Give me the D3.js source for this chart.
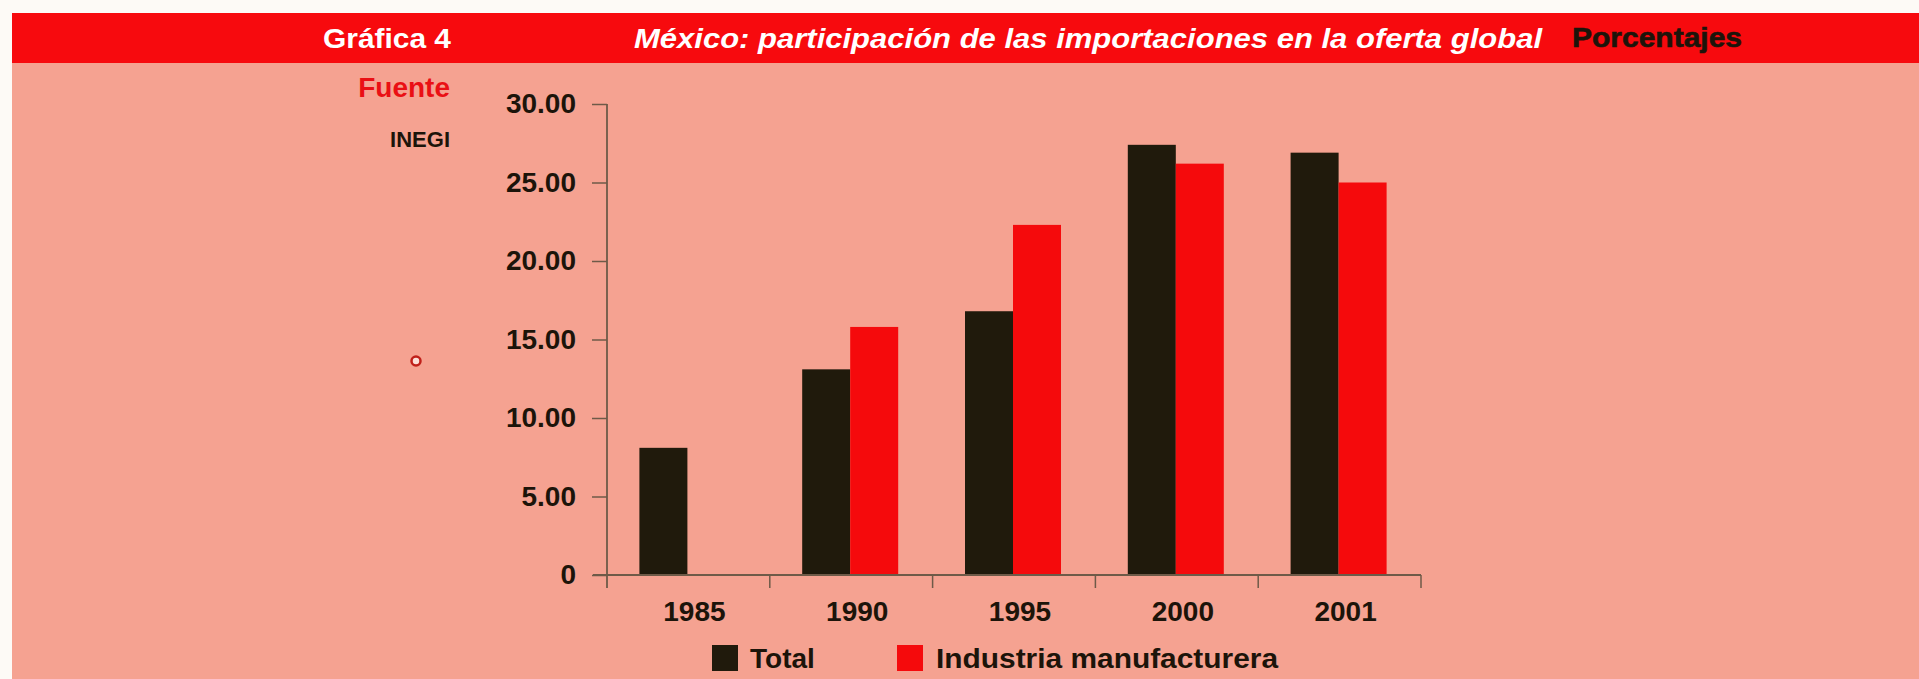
<!DOCTYPE html>
<html>
<head>
<meta charset="utf-8">
<script src="https://cdn.jsdelivr.net/npm/d3@7"></script>
<style>
  html, body { margin: 0; padding: 0; background: #fdfaf6; }
  svg { display: block; }
  text { font-family: "Liberation Sans", Arial, Helvetica, sans-serif; font-weight: bold; }
</style>
</head>
<body>
<svg id="chart" width="1919" height="679"></svg>
<script>
// ---- data ----
const years = ["1985", "1990", "1995", "2000", "2001"];
const seriesNames = ["Total", "Industria manufacturera"];
const totalValues = [8.1, 13.1, 16.8, 27.4, 26.9];
const industriaValues = [null, 15.8, 22.3, 26.2, 25.0];
const yTicks = [0, 5, 10, 15, 20, 25, 30];
const seriesColors = ["#201a0c", "#f50a0c"];

const headerLabel = "Gráfica 4";
const titleText = "México: participación de las importaciones en la oferta global";
const unitText = "Porcentajes";
const sourceLabel = "Fuente";
const sourceText = "INEGI";

// ---- layout ----
const W = 1919, H = 679;
const svg = d3.select("#chart");

// page background (salmon) with white margin top/left
svg.append("rect").attr("x", 12).attr("y", 13).attr("width", W - 12).attr("height", H - 13)
  .attr("fill", "#f5a291");
// header band
svg.append("rect").attr("x", 12).attr("y", 13).attr("width", W - 12).attr("height", 50)
  .attr("fill", "#f70a0e");

svg.append("text").attr("x", 323).attr("y", 48)
  .attr("font-size", 28).attr("fill", "#ffffff")
  .attr("textLength", 128).attr("lengthAdjust", "spacingAndGlyphs").text(headerLabel);
svg.append("text").attr("x", 634).attr("y", 48)
  .attr("font-size", 28).attr("font-style", "italic").attr("fill", "#ffffff")
  .attr("textLength", 908).attr("lengthAdjust", "spacingAndGlyphs").text(titleText);
svg.append("text").attr("x", 1572).attr("y", 47)
  .attr("font-size", 28).attr("font-weight", "normal").attr("fill", "#1c140a")
  .attr("stroke", "#1c140a").attr("stroke-width", 0.6)
  .attr("textLength", 170).attr("lengthAdjust", "spacingAndGlyphs").text(unitText);

svg.append("text").attr("x", 450).attr("y", 97).attr("text-anchor", "end")
  .attr("font-size", 28).attr("fill", "#ea0f14").text(sourceLabel);
svg.append("text").attr("x", 450).attr("y", 147).attr("text-anchor", "end")
  .attr("font-size", 22).attr("fill", "#1c140a").text(sourceText);

// scan artifact dot
svg.append("circle").attr("cx", 416).attr("cy", 361).attr("r", 4.5)
  .attr("fill", "#fbe0d8").attr("stroke", "#c0201a").attr("stroke-width", 2.5);

// ---- scales ----
const x0 = 607, x1 = 1421, yBase = 575, yTop = 104;
const x = d3.scaleBand().domain(years).range([x0, x1]).paddingInner(0).paddingOuter(0);
const y = d3.scaleLinear().domain([0, 30]).range([yBase, yTop]);
const xs = d3.scaleBand().domain(seriesNames).range([-49, 47]);

const axisColor = "#6e5a48";

// y axis
const yAxis = d3.axisLeft(y).tickValues(yTicks).tickSize(15).tickSizeOuter(0).tickPadding(16)
  .tickFormat(d => d === 0 ? "0" : d3.format(".2f")(d));
const gy = svg.append("g").attr("transform", `translate(${x0},0)`).call(yAxis);
gy.select(".domain").remove();
gy.selectAll(".tick line").attr("stroke", axisColor).attr("stroke-width", 1.5);
gy.selectAll(".tick text").attr("font-size", 28).attr("fill", "#1c140a")
  .attr("font-family", "'Liberation Sans', Arial, sans-serif").attr("font-weight", "bold");
svg.append("line").attr("x1", x0).attr("x2", x0).attr("y1", yTop).attr("y2", yBase + 13)
  .attr("stroke", axisColor).attr("stroke-width", 1.8);

// bars
const rows = years.map((yr, i) => ({ year: yr, values: [totalValues[i], industriaValues[i]] }));
const groups = svg.append("g").selectAll("g").data(rows).join("g")
  .attr("transform", d => `translate(${x(d.year) + x.bandwidth() / 2},0)`);
groups.selectAll("rect")
  .data(d => d.values.map((v, k) => ({ name: seriesNames[k], v, k })).filter(e => e.v != null))
  .join("rect")
  .attr("x", e => xs(e.name))
  .attr("width", xs.bandwidth())
  .attr("y", e => y(e.v))
  .attr("height", e => y(0) - y(e.v))
  .attr("fill", e => seriesColors[e.k]);

// x axis
svg.append("line").attr("x1", x0 - 14).attr("x2", x1).attr("y1", yBase).attr("y2", yBase)
  .attr("stroke", axisColor).attr("stroke-width", 1.8);
const boundaries = years.map(d => x(d)).concat([x1]);
svg.append("g").selectAll("line").data(boundaries.slice(1)).join("line")
  .attr("x1", d => d).attr("x2", d => d).attr("y1", yBase).attr("y2", yBase + 13)
  .attr("stroke", axisColor).attr("stroke-width", 1.5);
const xAxis = d3.axisBottom(x).tickSize(0).tickPadding(26);
const gx = svg.append("g").attr("transform", `translate(0,${yBase})`).call(xAxis);
gx.select(".domain").remove();
gx.selectAll(".tick text").attr("font-size", 28).attr("fill", "#1c140a")
  .attr("font-family", "'Liberation Sans', Arial, sans-serif").attr("font-weight", "bold")
  .attr("dx", 6);

// legend
const legendX = [712, 897];
const leg = svg.append("g").selectAll("g").data(seriesNames).join("g")
  .attr("transform", (d, i) => `translate(${legendX[i]},645)`);
leg.append("rect").attr("width", 26).attr("height", 26).attr("fill", (d, i) => seriesColors[i]);
leg.append("text").attr("x", (d, i) => i === 0 ? 38 : 39).attr("y", 23)
  .attr("font-size", 28).attr("fill", "#1c140a")
  .each(function (d, i) {
    if (i === 1) d3.select(this).attr("textLength", 342).attr("lengthAdjust", "spacingAndGlyphs");
  })
  .text(d => d);
</script>
</body>
</html>
